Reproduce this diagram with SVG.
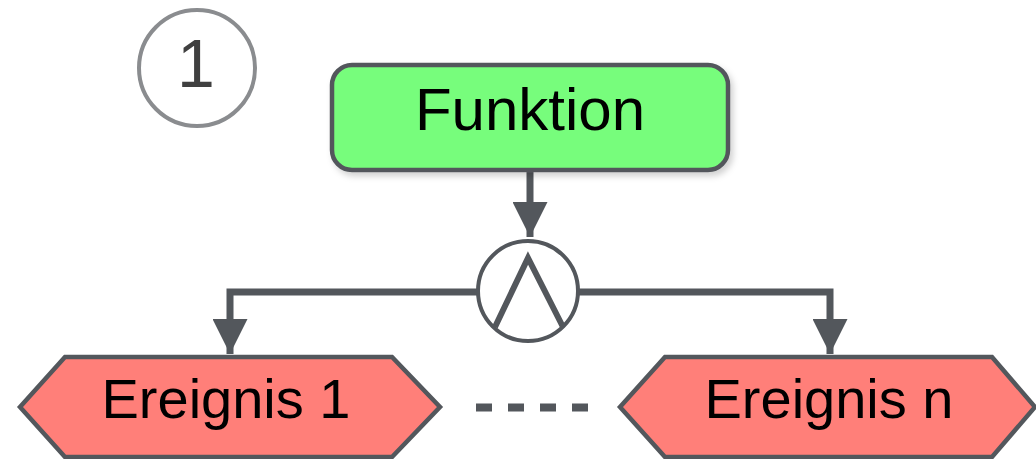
<svg xmlns="http://www.w3.org/2000/svg" width="1036" height="459" viewBox="0 0 1036 459">
<style>
  .lbl { font-family: "Liberation Sans", Arial, sans-serif; fill: #000; text-anchor: middle; }
  .conn { stroke: #53575c; stroke-width: 7; fill: none; }
  .ev { fill: #ff7f79; stroke: #53575c; stroke-width: 4.5; stroke-linejoin: miter; }
</style>
<defs>
  <marker id="arr" viewBox="0 0 10 10" refX="10" refY="5" markerWidth="5" markerHeight="5" markerUnits="strokeWidth" orient="auto">
    <path d="M0,0 L10,5 L0,10 Z" fill="#53575c"/>
  </marker>
  <filter id="sh" x="-10%" y="-10%" width="130%" height="140%">
    <feDropShadow dx="3" dy="4" stdDeviation="3" flood-color="#000" flood-opacity="0.18"/>
  </filter>
</defs>
<rect width="1036" height="459" fill="#fff"/>

<g id="step-number">
  <circle cx="197" cy="68" r="58" fill="none" stroke="#8a8c8f" stroke-width="4"/>
  <text x="196" y="87" font-family="Liberation Sans, Arial, sans-serif" font-size="68" fill="#404040" text-anchor="middle">1</text>
</g>

<g id="connectors">
  <line class="conn" x1="530" y1="172" x2="530" y2="237" marker-end="url(#arr)"/>
  <polyline class="conn" points="478,292 230,292 230,354" marker-end="url(#arr)"/>
  <polyline class="conn" points="578,292 830,292 830,354" marker-end="url(#arr)"/>
  <line x1="476" y1="407.5" x2="592" y2="407.5" stroke="#53575c" stroke-width="8" stroke-dasharray="16 16"/>
</g>

<g id="funktion">
  <rect x="332" y="65" width="396" height="105" rx="20" ry="20" fill="#77fd7b" stroke="#53575c" stroke-width="4.5" filter="url(#sh)"/>
  <text class="lbl" x="530" y="130" font-size="60">Funktion</text>
</g>

<g id="and-connector">
  <circle cx="528" cy="291" r="50" fill="#fff" stroke="#53575c" stroke-width="4"/>
  <polyline points="495,327 528,258 563,327" fill="none" stroke="#53575c" stroke-width="6" stroke-linejoin="miter"/>
</g>

<g id="ereignis-1">
  <polygon class="ev" points="20,407 65,357 392,357 440,407 392,457 65,457"/>
  <text class="lbl" x="226" y="418" font-size="56">Ereignis 1</text>
</g>

<g id="ereignis-n">
  <polygon class="ev" points="620,407 665,357 992,357 1035,407 992,457 665,457"/>
  <text class="lbl" x="829" y="418" font-size="56">Ereignis n</text>
</g>
</svg>
